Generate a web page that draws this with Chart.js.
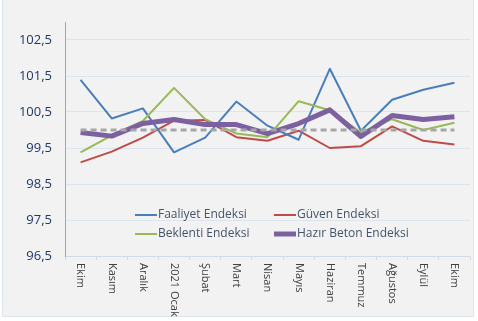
<!DOCTYPE html>
<html>
<head>
<meta charset="utf-8">
<script src="https://cdn.jsdelivr.net/npm/chart.js@4"></script>
<style>
  html, body { margin: 0; padding: 0; background: #ffffff; }
  #wrap { position: absolute; left: 2px; top: 0; width: 470px; height: 316px;
          background: #f2f2f2; border: 1px solid #dde4ec; border-top: none; }
  #chart { position: absolute; left: -3px; top: 0; }
</style>
</head>
<body>
<div id="wrap"><canvas id="chart" width="478" height="321"></canvas></div>
<script>
// ---------- Data ----------
const months = ["Ekim", "Kasım", "Aralık", "2021 Ocak", "Şubat", "Mart", "Nisan",
  "Mayıs", "Haziran", "Temmuz", "Ağustos", "Eylül", "Ekim"];

const faaliyet = [101.39, 100.32, 100.6, 99.38, 99.79, 100.79, 100.12, 99.73, 101.7, 99.98, 100.84, 101.12, 101.31];
const guven    = [99.1, 99.4, 99.79, 100.26, 100.28, 99.8, 99.7, 99.98, 99.5, 99.55, 100.1, 99.7, 99.6];
const beklenti = [99.38, 99.85, 100.25, 101.17, 100.3, 99.9, 99.8, 100.8, 100.55, 99.93, 100.3, 100.0, 100.2];
const hazirBeton = [99.93, 99.83, 100.18, 100.29, 100.15, 100.15, 99.9, 100.18, 100.56, 99.82, 100.4, 100.29, 100.37];
const baseline = [100, 100, 100, 100, 100, 100, 100, 100, 100, 100, 100, 100, 100];

const yTicks = [96.5, 97.5, 98.5, 99.5, 100.5, 101.5, 102.5];

// ---------- Plugins ----------
// x labels read top-to-bottom (rotated clockwise)
const xLabelPlugin = {
  id: "xLabels",
  afterDraw(chart) {
    const ctx = chart.ctx;
    const xs = chart.scales.x;
    ctx.save();
    ctx.font = "11px 'Open Sans', sans-serif";
    ctx.fillStyle = "#404040";
    ctx.textAlign = "left";
    ctx.textBaseline = "middle";
    chart.data.labels.forEach((lab, i) => {
      const x = xs.getPixelForTick(i);
      ctx.save();
      ctx.translate(x, xs.top + 7);
      ctx.rotate(Math.PI / 2);
      ctx.fillText(lab, 0, 0);
      ctx.restore();
    });
    ctx.restore();
  }
};

// legend inside the plot, two columns
const legendPlugin = {
  id: "innerLegend",
  afterDraw(chart) {
    const ctx = chart.ctx;
    const items = chart.data.datasets.filter(d => !d.hideInLegend);
    const cols = [135, 274];
    const rows = [215, 234];
    ctx.save();
    ctx.font = "12px 'Open Sans', sans-serif";
    ctx.textBaseline = "middle";
    ctx.textAlign = "left";
    items.forEach((d, i) => {
      const x = cols[i % 2];
      const y = rows[Math.floor(i / 2)];
      ctx.strokeStyle = d.borderColor;
      ctx.lineWidth = d.borderWidth;
      ctx.lineCap = "butt";
      ctx.beginPath();
      ctx.moveTo(x, y);
      ctx.lineTo(x + 22, y);
      ctx.stroke();
      ctx.fillStyle = "#44546a";
      ctx.fillText(d.label, x + 23, y);
    });
    ctx.restore();
  }
};

// ---------- Chart ----------
const ctx = document.getElementById("chart").getContext("2d");
new Chart(ctx, {
  type: "line",
  data: {
    labels: months,
    datasets: [
      { label: "Faaliyet Endeksi", data: faaliyet, borderColor: "#4a7ebb", borderWidth: 2, order: 4 },
      { label: "Güven Endeksi", data: guven, borderColor: "#be4b48", borderWidth: 2, order: 5 },
      { label: "Beklenti Endeksi", data: beklenti, borderColor: "#98b954", borderWidth: 2, order: 3 },
      { label: "Hazır Beton Endeksi", data: hazirBeton, borderColor: "#7d60a0", borderWidth: 5, order: 2 },
      { label: "baseline", data: baseline, borderColor: "#a6a6a6", borderWidth: 3,
        borderDash: [6, 4], hideInLegend: true, order: 1 }
    ]
  },
  options: {
    responsive: false,
    animation: false,
    layout: { padding: { left: 0, right: 8, top: 22, bottom: 0 } },
    elements: {
      point: { radius: 0 },
      line: { tension: 0, fill: false, borderJoinStyle: "round" }
    },
    plugins: {
      legend: { display: false },
      tooltip: { enabled: false }
    },
    scales: {
      x: {
        offset: true,
        afterFit(scale) { scale.height = 65; },
        grid: { offset: true, drawOnChartArea: false, tickLength: 4, color: "#d3dbe5" },
        border: { color: "#d3dbe5" },
        ticks: { display: false }
      },
      y: {
        min: 96.5,
        max: 103,
        afterFit(scale) { scale.width = 65; },
        afterBuildTicks(scale) { scale.ticks = yTicks.map(v => ({ value: v })); },
        grid: { color: "#dce5ef", drawTicks: false },
        border: { color: "#8faac8" },
        ticks: {
          padding: 13,
          color: "#1f3864",
          font: { family: "'Open Sans', sans-serif", size: 13 },
          callback: v => v.toFixed(1).replace(".", ",")
        }
      }
    }
  },
  plugins: [xLabelPlugin, legendPlugin]
});
</script>
</body>
</html>
